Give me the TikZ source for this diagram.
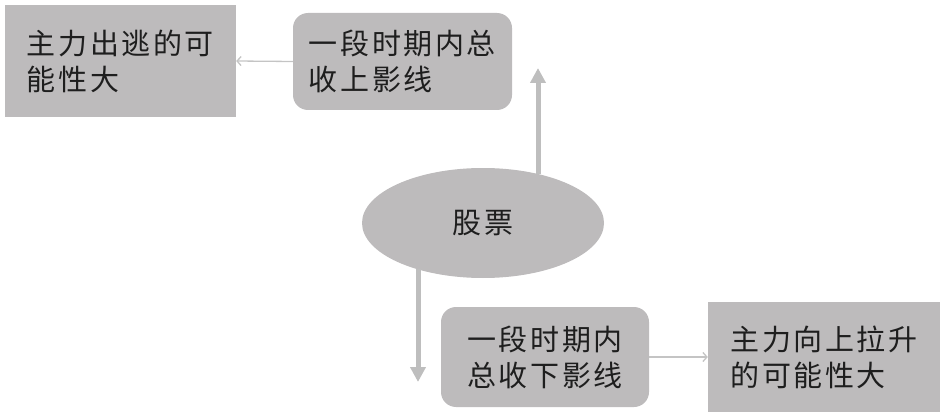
\documentclass[tikz,border=0pt]{standalone}
\usepackage{fontspec}
\newfontfamily\cjk[LetterSpace=9]{Noto Sans CJK SC}
\usetikzlibrary{arrows.meta,shapes.geometric}
\definecolor{boxgray}{RGB}{189,187,188}
\definecolor{arrgray}{RGB}{190,190,190}
\definecolor{linegray}{RGB}{196,196,196}
\definecolor{ink}{RGB}{30,30,30}
\tikzset{
  txt/.style={font=\cjk\fontsize{29}{36}\selectfont, text=ink, align=left, inner sep=0pt},
  rectbox/.style={txt, fill=boxgray, draw=none},
  roundbox/.style={rectbox, rounded corners=15pt},
  ovalbox/.style={txt, ellipse, fill=boxgray, draw=none},
  thinarrow/.style={draw=linegray, line width=1.3pt, -{Straight Barb[length=4pt,width=9pt]}},
  thickarrow/.style={draw=arrgray, line width=5pt, -{Triangle[length=15pt,width=15pt]}}
}
\begin{document}
\begin{tikzpicture}[x=1pt,y=1pt]
\useasboundingbox (0,0) rectangle (946,416);
\node[rectbox, minimum width=231pt, minimum height=112pt] (A) at (120.5,355) {主力出逃的可\\能性大};
\node[roundbox, minimum width=219pt, minimum height=97pt] (B) at (402.5,354.5) {一段时期内总\\收上影线};
\node[ovalbox, minimum width=242pt, minimum height=110pt] (E) at (483,193) {股票};
\node[roundbox, minimum width=208pt, minimum height=100pt] (C) at (545,59) {一段时期内\\总收下影线};
\node[rectbox, minimum width=232pt, minimum height=110pt] (D) at (824,59) {主力向上拉升\\的可能性大};
\coordinate (upend) at (538,348);
\coordinate (downend) at (418,34);
\draw[thinarrow] (B.west) -- (A.east);
\draw[thinarrow] (C.east) -- (D.west);
\draw[thickarrow] (E.41.7 -| upend) -- (upend);
\draw[thickarrow] (E.215.5 -| downend) -- (downend);
\end{tikzpicture}
\end{document}
